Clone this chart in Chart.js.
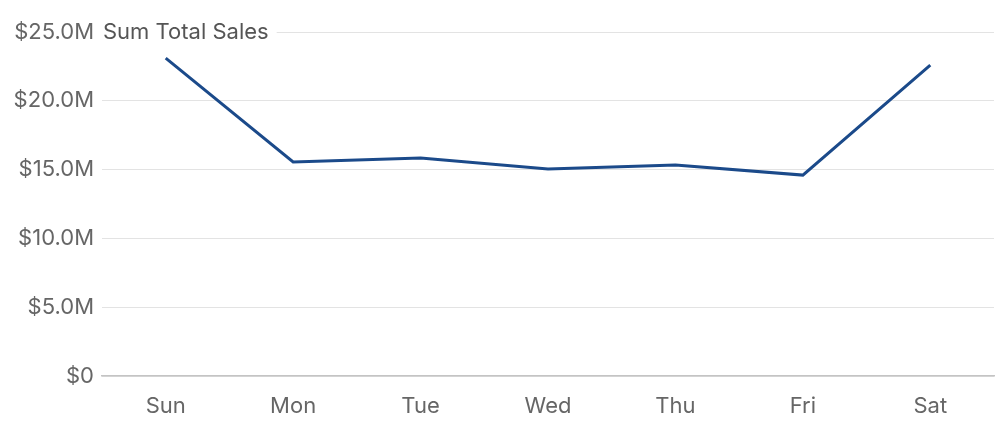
<!DOCTYPE html>
<html>
<head>
<script src="https://cdn.jsdelivr.net/npm/chart.js@4"></script>
<style>
body { margin: 0; background: #fff; }
#wrap { width: 1000px; height: 430px; }
</style>
</head>
<body>
<div id="wrap"><canvas id="sales-chart"></canvas></div>
<script>
var days = ['Sun', 'Mon', 'Tue', 'Wed', 'Thu', 'Fri', 'Sat']
var totalSales = [23100000, 15550000, 15840000, 15040000, 15330000, 14600000, 22600000]
var seriesTitle = 'Sum Total Sales'

// label drawn over the top gridline, next to the top tick
const titlePlugin = {
    id: 'seriesTitle',
    afterDraw(chart) {
        const ctx = chart.ctx
        const y = chart.scales.y.getPixelForValue(25000000)
        ctx.save()
        ctx.font = '22px Inter, "Liberation Sans", sans-serif'
        const w = ctx.measureText(seriesTitle).width
        ctx.fillStyle = '#fff'
        ctx.fillRect(chart.chartArea.left, y - 13, w + 9, 26)
        ctx.fillStyle = '#555'
        ctx.textBaseline = 'middle'
        ctx.fillText(seriesTitle, chart.chartArea.left + 1, y)
        ctx.restore()
    }
}

function money(v) {
    if (v === 0) return '$0'
    return '$' + (v / 1000000).toFixed(1) + 'M'
}

new Chart(document.getElementById('sales-chart').getContext('2d'), {
    type: 'line',
    plugins: [titlePlugin],
    data: {
        labels: days,
        datasets: [{
            label: seriesTitle,
            data: totalSales,
            borderColor: '#1b4a8a',
            borderWidth: 3,
            pointRadius: 0,
            tension: 0,
            fill: false
        }]
    },
    options: {
        responsive: true,
        maintainAspectRatio: false,
        animation: false,
        layout: { padding: { top: 32, right: 6, left: 0, bottom: 0 } },
        plugins: { legend: { display: false }, tooltip: { enabled: false } },
        scales: {
            x: {
                offset: true,
                grid: { display: false },
                border: { color: '#c4c4c4', width: 1.5 },
                ticks: { color: '#666', padding: 9, font: { size: 22, family: 'Inter, "Liberation Sans", sans-serif' } },
                afterFit: (s) => { s.height = 54 }
            },
            y: {
                min: 0,
                max: 25000000,
                grid: { color: '#e3e3e3', drawTicks: false },
                border: { display: false },
                ticks: {
                    stepSize: 5000000,
                    color: '#666',
                    padding: 8,
                    font: { size: 22, family: 'Inter, "Liberation Sans", sans-serif' },
                    callback: money
                },
                afterFit: (s) => { s.width = 102 }
            }
        }
    }
})
</script>
</body>
</html>
